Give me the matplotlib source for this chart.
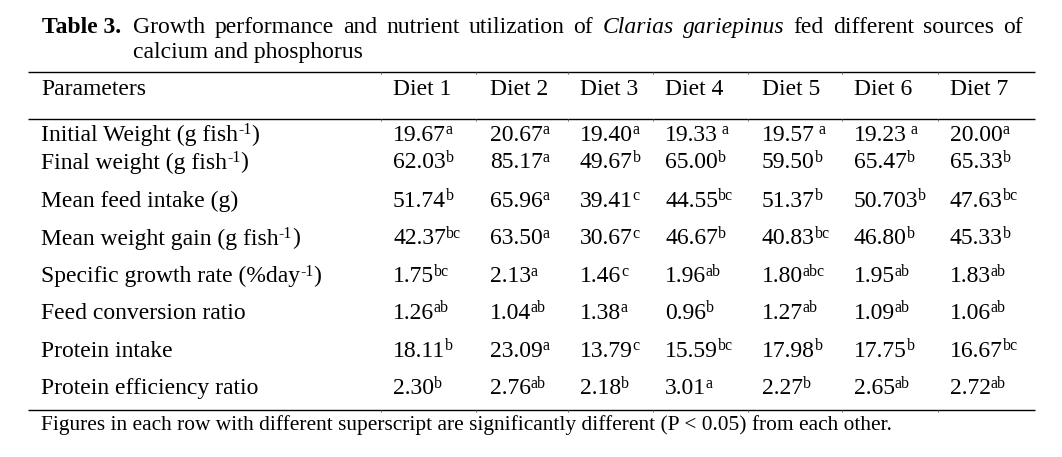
import matplotlib
matplotlib.use("Agg")
import matplotlib.pyplot as plt

# ---------------- data ----------------
title_label = "Table 3."
title_line1_a = "Growth performance and nutrient utilization of"
title_italic = "Clarias gariepinus"
title_line1_b = "fed different sources of"
title_line2 = "calcium and phosphorus"

header_first = "Parameters"
diets = ["Diet 1", "Diet 2", "Diet 3", "Diet 4", "Diet 5", "Diet 6", "Diet 7"]

params = ["Initial Weight (g fish", "Final weight (g fish", "Mean feed intake (g)",
          "Mean weight gain (g fish", "Specific growth rate (%day",
          "Feed conversion ratio", "Protein intake", "Protein efficiency ratio"]
param_sup = ["-1", "-1", "", "-1", "-1", "", "", ""]
param_tail = [")", ")", "", ")", ")", "", "", ""]

diet1 = ["19.67", "62.03", "51.74", "42.37", "1.75", "1.26", "18.11", "2.30"]
diet2 = ["20.67", "85.17", "65.96", "63.50", "2.13", "1.04", "23.09", "2.76"]
diet3 = ["19.40", "49.67", "39.41", "30.67", "1.46", "1.38", "13.79", "2.18"]
diet4 = ["19.33", "65.00", "44.55", "46.67", "1.96", "0.96", "15.59", "3.01"]
diet5 = ["19.57", "59.50", "51.37", "40.83", "1.80", "1.27", "17.98", "2.27"]
diet6 = ["19.23", "65.47", "50.703", "46.80", "1.95", "1.09", "17.75", "2.65"]
diet7 = ["20.00", "65.33", "47.63", "45.33", "1.83", "1.06", "16.67", "2.72"]

sup1 = ["a", "b", "b", "bc", "bc", "ab", "b", "b"]
sup2 = ["a", "a", "a", "a", "a", "ab", "a", "ab"]
sup3 = ["a", "b", "c", "c", "c", "a", "c", "b"]
sup4 = [" a", "b", "bc", "b", "ab", "b", "bc", "a"]
sup5 = [" a", "b", "b", "bc", "abc", "ab", "b", "b"]
sup6 = [" a", "b", "b", "b", "ab", "ab", "b", "ab"]
sup7 = ["a", "b", "bc", "b", "ab", "ab", "bc", "ab"]

footnote = "Figures in each row with different superscript are significantly different (P < 0.05) from each other."

values = [diet1, diet2, diet3, diet4, diet5, diet6, diet7]
sups = [sup1, sup2, sup3, sup4, sup5, sup6, sup7]

# ---------------- layout ----------------
W, H = 1062, 457
fig = plt.figure(figsize=(W / 100, H / 100), dpi=100)
ax = fig.add_axes([0, 0, 1, 1])
ax.set_xlim(0, W)
ax.set_ylim(H, 0)
ax.axis("off")
r = fig.canvas.get_renderer()

FONT = "Liberation Serif"
FS = 17
SFS = 11.5
RAISE = 6.5


def width(t):
    return t.get_window_extent(renderer=r).width


def txt(x, y, s, size=FS, **kw):
    return ax.text(x, y, s, fontsize=size, family=FONT, va="baseline",
                   ha="left", color="black", **kw)


def put(x, y, s, sup="", tail="", tight=0.3):
    t = txt(x, y, s)
    x2 = x + width(t) - tight
    if sup:
        ts = txt(x2, y - RAISE, sup, size=SFS)
        x2 += width(ts)
    if tail:
        txt(x2, y, tail)


# title
txt(42, 33, title_label, fontweight="bold")
words = [(w, "normal") for w in title_line1_a.split()] + \
        [(w, "italic") for w in title_italic.split()] + \
        [(w, "normal") for w in title_line1_b.split()]
x0, x1 = 133, 1023
arts = [txt(0, 33, w, style=st) for w, st in words]
ws = [width(a) for a in arts]
gap = (x1 - x0 - sum(ws)) / (len(ws) - 1)
xc = x0
for a, w in zip(arts, ws):
    a.set_x(xc)
    xc += w + gap
txt(133, 58, title_line2)

# rules
for yy in [72.3, 119.3, 409.5]:
    ax.plot([28, 1035], [yy, yy], color="black", lw=1.0, solid_capstyle="butt")
    for bx in [381, 476, 568, 653, 748, 842, 938]:
        ax.plot([bx, bx], [yy, yy + 2.0], color="#555555", lw=0.5)

# header
col_x = [393, 490, 580, 665, 762, 854, 950]
txt(41, 95, header_first)
for cx, d in zip(col_x, diets):
    txt(cx, 95, d)

row_y = [141, 168.5, 207, 244.5, 282, 319, 357, 394]
for i, (p, ps, pt) in enumerate(zip(params, param_sup, param_tail)):
    put(41, row_y[i], p, ps, pt, tight=0.0)
    for j in range(len(diets)):
        put(col_x[j], row_y[i], values[j][i], sups[j][i])

txt(41, 430, footnote, size=15.4)

fig.savefig("out.png", dpi=100)
